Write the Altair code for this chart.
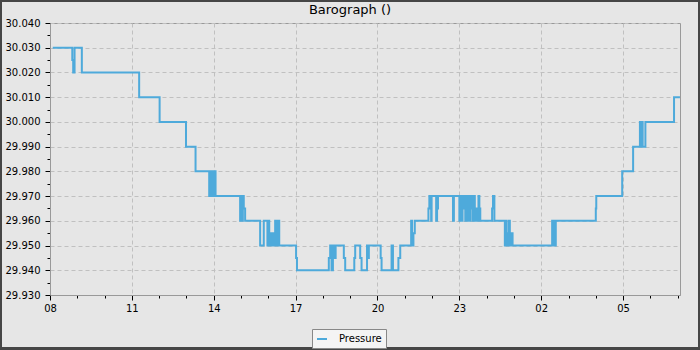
import altair as alt
import pandas as pd

# ---- data ----
times = [
    "08:06", "08:49", "08:51", "08:54", "09:10", "11:16", "12:01", "12:59", "13:20",
    "13:50", "13:52", "13:54", "13:57", "13:59", "14:02", "14:04",
    "14:58", "15:00", "15:02", "15:04", "15:06", "15:09",
    "15:42", "15:50", "15:58", "16:00", "16:02", "16:04", "16:07", "16:09", "16:11",
    "16:15", "16:17", "16:21", "16:24", "17:01", "17:03",
    "18:13", "18:16", "18:19", "18:22", "18:25", "18:28", "18:46", "18:49",
    "19:09", "19:11", "19:22", "19:25", "19:37", "19:39", "19:41", "20:07", "20:09",
    "20:31", "20:34", "20:46", "20:50", "21:14", "21:16", "21:19", "21:22",
    "21:52", "21:54", "21:58", "21:59", "22:09", "22:11", "22:13", "22:46", "22:48",
    "22:58", "23:00", "23:02", "23:05", "23:07", "23:09", "23:11", "23:13", "23:15",
    "23:18", "23:20", "23:23", "23:25", "23:27", "23:30", "23:32", "23:34",
    "23:37", "23:40", "23:42", "23:44", "23:46",
    "00:12", "00:14", "00:17", "00:40", "00:42", "00:44", "00:46", "00:49", "00:51",
    "00:53", "00:57", "02:24", "02:26", "02:28", "02:30", "02:32",
    "04:00", "04:01", "04:58", "05:22", "05:37", "05:39", "05:41", "05:43", "05:49",
    "06:52", "07:05",
]
pressure = [
    30.030, 30.025, 30.020, 30.030, 30.020, 30.010, 30.000, 29.990, 29.980,
    29.970, 29.980, 29.970, 29.980, 29.970, 29.980, 29.970,
    29.960, 29.970, 29.960, 29.970, 29.965, 29.960,
    29.950, 29.960, 29.950, 29.960, 29.950, 29.955, 29.950, 29.955, 29.950,
    29.960, 29.950, 29.960, 29.950, 29.945, 29.940,
    29.945, 29.950, 29.940, 29.950, 29.945, 29.950, 29.945, 29.940,
    29.945, 29.950, 29.945, 29.940, 29.950, 29.945, 29.950, 29.945, 29.940,
    29.950, 29.940, 29.945, 29.950, 29.960, 29.950, 29.955, 29.960,
    29.965, 29.970, 29.960, 29.970, 29.960, 29.965, 29.970, 29.960, 29.970,
    29.970, 29.960, 29.970, 29.960, 29.970, 29.965, 29.970, 29.960, 29.970,
    29.960, 29.970, 29.960, 29.965, 29.970, 29.960, 29.970, 29.960,
    29.965, 29.960, 29.970, 29.965, 29.960,
    29.965, 29.970, 29.960, 29.950, 29.960, 29.955, 29.950, 29.960, 29.950,
    29.955, 29.950, 29.960, 29.950, 29.960, 29.950, 29.960,
    29.965, 29.970, 29.980, 29.990, 30.000, 29.990, 30.000, 29.990, 30.000,
    30.010, 30.010,
]
series_name = "Pressure"
chart_title = "Barograph ()"
x_tick_hours = list(range(0, 24))        # every hour from 08:00; labelled every 3 h
y_major = [29.930, 29.940, 29.950, 29.960, 29.970, 29.980, 29.990,
           30.000, 30.010, 30.020, 30.030, 30.040]
y_minor = [29.935, 29.945, 29.955, 29.965, 29.975, 29.985, 29.995,
           30.005, 30.015, 30.025, 30.035]
x_end_hours = 23.085   # 07:05 next day
start_hour = 8


def to_offset(s):
    h, m = map(int, s.split(":"))
    off = h + m / 60 - start_hour
    if off < 0:
        off += 24
    return off


df = pd.DataFrame({"t": [to_offset(s) for s in times], "v": pressure,
                   "series": [series_name] * len(times)})
one = pd.DataFrame({"label": [chart_title]})

W, H = 630, 272
FONT = "DejaVu Sans"
LINE = "#4eaadb"

x_major_test = "datum.value % 3 === 0"
y_major_test = "round(datum.value * 1000) % 10 === 0"

x_scale = alt.Scale(domain=[0, x_end_hours], nice=False, zero=False)
y_scale = alt.Scale(domain=[29.930, 30.040], nice=False, zero=False)
x_axis = alt.Axis(
    values=x_tick_hours,
    labelExpr=f"{x_major_test} ? slice('0' + ((datum.value + 8) % 24), -2) : ''",
    grid=True, gridDash=[4, 3], gridColor="#c0c0c0", gridWidth=1,
    gridOpacity={"condition": {"test": x_major_test, "value": 1}, "value": 0},
    tickSize={"condition": {"test": x_major_test, "value": 5}, "value": 3},
    tickColor="#000", domainColor="#999",
    labelFont=FONT, labelFontSize=10, labelColor="#000",
    labelPadding={"condition": {"test": x_major_test, "value": 3}, "value": 5},
    labelFlush=False, labelOverlap=False)
y_axis = alt.Axis(
    values=sorted(y_major + y_minor),
    labelExpr=f"{y_major_test} ? format(datum.value, '.3f') : ''",
    grid=True, gridDash=[4, 3], gridColor="#c0c0c0", gridWidth=1,
    gridOpacity={"condition": {"test": y_major_test, "value": 1}, "value": 0},
    tickSize={"condition": {"test": y_major_test, "value": 5}, "value": 3},
    tickColor="#000", domainColor="#999",
    labelFont=FONT, labelFontSize=10, labelColor="#000",
    labelPadding={"condition": {"test": y_major_test, "value": 5}, "value": 7},
    labelFlush=False, labelOverlap=False)

line = alt.Chart(df).mark_line(interpolate="step-after", strokeWidth=2).encode(
    x=alt.X("t:Q", scale=x_scale, axis=x_axis, title=None),
    y=alt.Y("v:Q", scale=y_scale, axis=y_axis, title=None),
    color=alt.Color("series:N",
                    scale=alt.Scale(domain=[series_name], range=[LINE]),
                    legend=alt.Legend(orient="none", legendX=262, legendY=306,
                                      title=None, fillColor="#f4f4f4",
                                      strokeColor="#888", padding=4,
                                      symbolType="stroke", symbolSize=100,
                                      symbolStrokeWidth=2, labelOffset=11,
                                      labelFont=FONT, labelFontSize=10,
                                      labelColor="#000",
                                      labelExpr="datum.label + '\u00a0\u00a0'")),
)

title_mark = alt.Chart(one).mark_text(font=FONT, fontSize=13, color="#000",
                                      align="center", baseline="middle").encode(
    text="label:N", x=alt.value(300), y=alt.value(-13.5))

BORDER = "#464646"
def strip(x0, x1, y0, y1):
    return alt.Chart(one).mark_rect(color=BORDER).encode(
        x=alt.value(x0), x2=alt.value(x1), y=alt.value(y0), y2=alt.value(y1))

borders = [
    strip(-50, -48, -23, 327),      # left
    strip(-50, 650, -23, -21),      # top
    strip(648, 650, -23, 327),      # right
    strip(-50, 650, 324, 327),      # bottom
]

chart = alt.layer(line, title_mark, *borders).properties(
    width=W, height=H,
    autosize=alt.AutoSizeParams(type="none"),
    padding={"left": 50, "top": 23, "right": 20, "bottom": 55},
    background="#e6e6e6",
).configure_view(stroke="#999", strokeWidth=1)

chart.save("out.html", embed_options={"renderer": "svg", "actions": False})
